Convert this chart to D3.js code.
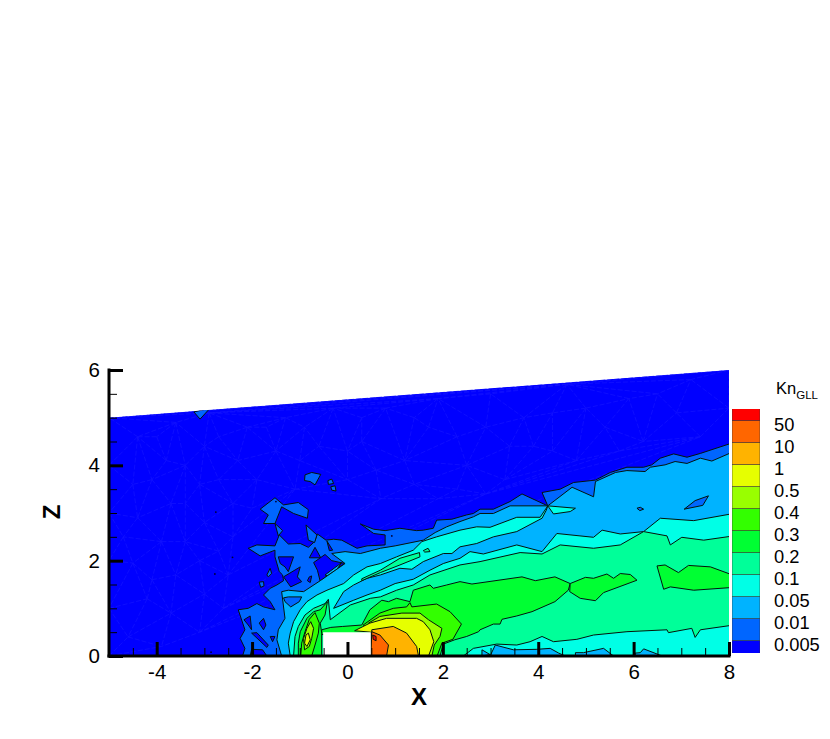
<!DOCTYPE html>
<html lang="en">
<head>
  <meta charset="utf-8">
  <title>Kn GLL contour</title>
  <style>
    body { margin:0; background:#fff; }
    svg { display:block; }
    text { font-family:"Liberation Sans", sans-serif; fill:#000; }
    .axis path { stroke:#000; stroke-width:3px; stroke-linecap:square; }
    .axis .tick line { stroke:#000; }
    .axis .major line { stroke-width:3px; }
    .axis .minor line { stroke-width:1px; }
    .axis text { font-size:20.5px; }
    .band { stroke:#04140c; stroke-width:1px; stroke-linejoin:round; }
    .mesh { fill:none; stroke:#1212ff; stroke-width:0.8px; stroke-dasharray:5 2; }
  </style>
</head>
<body>
  <div id="page"></div>
  <script src="https://cdn.jsdelivr.net/npm/d3@7"></script>
  <script>
    // legend, bottom to top
    var legendLabels = ["0.005","0.01","0.05","0.1","0.2","0.3","0.4","0.5","1","10","50",""];
    var legendColors = ["#0000ff","#0066ff","#00b3ff","#00ffe6","#00ff99","#00ff33","#33ff00","#99ff00","#e6ff00","#ffb300","#ff6600","#ff0000"];

    var xTicks = [-4,-2,0,2,4,6,8];
    var zTicks = [0,2,4,6];
    var xMinor = [-4.5,-3.5,-3,-2.5,-1.5,-1,-0.5,0.5,1,1.5,2.5,3,3.5,4.5,5,5.5,6.5,7,7.5];
    var zMinor = [0.5,1,1.5,2.5,3,3.5,4.5,5,5.5];

    // computational domain, x / z
    var domainEdge = [[-5,0],[-5,5],[8,6],[8,0]];
    var block = [[-0.51,0],[-0.51,0.5],[0.49,0.5],[0.49,0]];

    // mesh nodes that show through in the far field
    var meshNodes = [[-5,0],[-5,1],[-5,2],[-5,3],[-5,4],[-5,5],[-4.6,0.4],[-4.2,1.2],[-4.5,1.95],[-4.4,2.9],[-4.5,3.6],[-4.4,4.6],[-3.9,0.2],[-3.7,0.9],[-3.6,1.7],[-3.9,2.4],[-3.7,3.2],[-3.8,4.1],[-3.6,4.9],[-3.1,0.5],[-3,1.3],[-3.1,2],[-3,2.8],[-3.1,3.6],[-3,4.4],[-2.9,5.1],[-2.5,1.7],[-2.4,2.5],[-2.4,3.2],[-2.3,4.1],[-2.1,4.8],[-1.9,3.7],[-1.5,4.3],[-1.3,5],[-1.1,3.5],[-0.6,4.4],[-0.3,5.2],[0,3.7],[0.3,4.5],[0.8,5.2],[0.7,3.3],[1.2,4.1],[1.7,4.8],[1.9,5.4],[1.9,3.3],[2.5,4],[2.9,4.8],[3,5.5],[3.3,3.7],[3.9,4.4],[4.3,5.1],[4.6,5.7],[4.8,4.1],[5.4,4.8],[5.9,5.4],[6.2,4.5],[6.9,5.1],[7.2,5.8],[7.4,4.6],[8,5.2],[8,6],[-4.7,2.5],[-4.1,3.7],[-4,4.6],[-4.1,1.6],[-3.4,2.4],[-3.4,3.2],[-3.4,4],[-2.7,3.7],[-2.7,4.6],[-2.6,1],[-2.7,2.2],[-2,3.1],[-1.7,4.8],[-0.9,4.8],[-1,4.1],[0,4.3],[0.3,5],[0.6,3.9],[1.4,3.6],[1.4,5],[2.3,4.6],[2.3,3.5],[2.9,3.4],[3.4,4.4],[3.7,5],[4.3,4.3],[5,5.2],[5.7,4.3],[6.5,5.5]];

    // small closed pockets too tiny to fill, shown as dots
    var specks = [[-2.76,3.02],[-2.41,2.07],[-2.78,1.72],[-2.86,0.08],[-1.5,3.24],[0.93,2.52]];

    // 0.01 contour
    var band01 = [[8.1,4.48],[7.4,4.25],[7.12,4.17],[6.84,4.24],[6.56,4.15],[6.38,4.01],[6.21,3.96],[5.86,3.96],[5.51,3.85],[5.2,3.69],[4.74,3.64],[4.46,3.5],[4.08,3.43],[4.2,3.15],[3.66,3.4],[3.41,3.24],[3.06,3.08],[2.78,3.08],[2.64,2.99],[2.5,2.96],[2.19,2.87],[1.87,2.85],[1.8,2.68],[1.59,2.64],[1.45,2.63],[1.1,2.68],[0.79,2.63],[0.55,2.66],[0.27,2.77],[0.55,2.57],[0.79,2.54],[0.79,2.33],[0.41,2.31],[0.2,2.26],[-0.12,2.43],[-0.29,2.45],[-0.45,2.43],[-0.63,2.56],[-0.69,2.4],[-0.82,2.28],[-0.99,2.36],[-1.24,2.35],[-1.43,2.54],[-1.52,2.31],[-1.9,2.33],[-2.08,2.26],[-1.83,2.1],[-1.52,2.22],[-1.52,2.08],[-1.43,1.77],[-1.36,1.7],[-1.34,1.58],[-1.48,1.49],[-1.62,1.42],[-1.76,1.28],[-1.62,1.14],[-1.52,0.97],[-1.76,1.03],[-1.9,1.1],[-2.08,1],[-2.29,0.97],[-2.15,0.55],[-2.25,0.37],[-2.15,0.16],[-2.2,0],[8.1,0]];
    var island01a = [[-1.83,3.08],[-1.52,3.32],[-1.34,3.17],[-1.03,3.22],[-0.82,3.07],[-0.84,2.89],[-1.13,2.99],[-1.38,3.13],[-1.52,2.78],[-1.76,2.78],[-1.66,2.96]];
    var island01b = [[-0.89,3.8],[-0.75,3.85],[-0.56,3.81],[-0.68,3.59],[-0.78,3.66],[-0.9,3.68]];
    var island01c = [[-0.41,3.68],[-0.33,3.71],[-0.29,3.62],[-0.4,3.6]];
    var island01d = [[-0.35,3.55],[-0.26,3.57],[-0.24,3.46],[-0.33,3.48]];
    var island01e = [[-1.52,2.78],[-1.41,2.68],[-1.36,2.63],[-1.45,2.52]];
    var island01f = [[-0.87,2.75],[-0.64,2.54],[-0.69,2.38],[-0.82,2.43]];
    var island01g = [[-1.69,1.7],[-1.62,1.84],[-1.59,1.73],[-1.66,1.66]];
    var island01h = [[-1.85,1.55],[-1.76,1.56],[-1.75,1.47],[-1.82,1.44]];
    var island01i = [[-3.22,5.12],[-2.88,5.2],[-3.09,4.97]];

    // pockets below 0.01 inside band01
    var hole01a = [[-1.45,2.08],[-1.13,2.08],[-1.24,1.77],[-1.31,1.87],[-1.41,1.94]];
    var hole01b = [[-1.34,1.66],[-0.99,1.87],[-1.05,1.66],[-0.96,1.56],[-1.19,1.45]];
    var hole01c = [[-0.8,1.66],[-0.75,1.68],[-0.78,1.54],[-0.84,1.58]];
    var hole01d = [[-0.8,2.06],[-0.68,2.28],[-0.56,2.06]];
    var hole01e = [[-0.71,1.96],[-0.47,2.13],[-0.33,2],[-0.05,1.94],[-0.29,1.8],[-0.57,1.56],[-0.63,1.8]];
    var hole01f = [[-0.43,2.41],[-0.31,2.22],[-0.38,2.21]];
    var hole01g = [[-2.17,0.76],[-2.04,0.84],[-2.01,0.55],[-2.08,0.65]];
    var hole01h = [[-1.85,0.69],[-1.76,0.79],[-1.71,0.65],[-1.76,0.55]];
    var hole01i = [[-2.01,0.48],[-1.9,0.49],[-1.66,0.23],[-1.69,0.18]];
    var hole01j = [[-1.62,0.41],[-1.52,0.41],[-1.57,0.3]];
    var hole01k = [[-2.04,0],[-2.01,0.14],[-1.78,0.13],[-1.69,0]];
    var sliver01 = [[-0.47,1.7],[-0.12,1.96],[-0.22,1.82],[-0.42,1.68]];

    // 0.05 contour
    var band05 = [[8.1,4.29],[7.64,4.09],[7.4,4.15],[7.12,4.04],[6.87,4.08],[6.66,4.01],[6.35,3.96],[6.24,3.87],[5.86,3.89],[5.62,3.85],[5.2,3.66],[5.16,3.34],[4.71,3.54],[4.2,3.15],[3.41,3.15],[3.06,2.99],[2.78,2.99],[2.64,2.92],[2.36,2.82],[2.08,2.71],[1.84,2.59],[1.59,2.43],[1,2.31],[0.69,2.26],[0.27,2.15],[-0.05,2.19],[-0.33,2.15],[-0.05,1.94],[-0.57,1.58],[-0.92,1.35],[-1.24,1.38],[-1.38,1.35],[-1.31,0.79],[-1.45,0.55],[-1.48,0.34],[-1.38,0],[8.1,0]];
    var island05a = [[-1.34,1.22],[-1.24,1.24],[-0.96,1.24],[-1.01,1.14],[-1.19,1.03],[-1.31,1.14]];
    var island05b = [[7.06,3.08],[7.29,3.26],[7.57,3.36],[7.45,3.16]];
    var island05c = [[6.07,3.1],[6.14,3.12],[6.21,3.08],[6.13,3.05]];

    // 0.1 contour, with the thin 0.05 sliver cut in from the right
    var band1 = [[8.1,2.99],[7.26,2.84],[6.56,2.89],[6.21,2.61],[5.72,2.56],[5.34,2.64],[5.16,2.49],[4.39,2.57],[4.08,2.19],[3.55,2.33],[2.85,2.14],[2.57,2.19],[2.36,2.05],[2.01,1.94],[1.73,1.8],[1.38,1.61],[1,1.52],[0.69,1.38],[0.41,1.28],[0.13,1.17],[-0.29,1],[-0.08,1.35],[0.13,1.49],[0.41,1.63],[0.69,1.7],[1.1,1.84],[1.35,1.82],[1.59,1.98],[2.01,2.15],[2.19,2.15],[2.36,2.29],[2.71,2.36],[3.06,2.5],[3.55,2.61],[4.08,2.89],[4.17,3.06],[4.2,3.15],[4.04,2.91],[3.55,2.91],[2.99,2.7],[2.71,2.71],[2.36,2.64],[1.87,2.5],[1.56,2.4],[1.38,2.22],[1.03,2.08],[0.69,1.94],[0.41,1.87],[0.13,1.7],[-0.08,1.52],[-0.43,1.38],[-0.64,1.28],[-0.85,1.14],[-0.99,0.97],[-1.13,0.72],[-1.2,0.48],[-1.24,0.27],[-1.2,0],[8.1,0]];
    var island1a = [[4.2,3.15],[4.78,3.1],[4.67,3.03],[4.32,2.98]];
    var patch05a = [[2.82,0.13],[2.99,0.03],[2.82,0]];
    var patch05b = [[3.1,0.23],[3.48,0.13],[3.97,0.14],[4.25,0.16],[4.43,0.06],[4.57,0],[2.99,0]];
    var patch05c = [[4.78,0.07],[4.95,0.07],[5.37,0.16],[5.58,0],[4.78,0]];
    var patch05d = [[6.03,0.06],[6.14,0.07],[6.21,0.15],[6.6,0],[6.03,0]];

    // 0.2 contour
    var band2 = [[8.1,2.52],[7.47,2.43],[7.01,2.49],[6.77,2.33],[6.7,2.52],[6.21,2.61],[5.72,2.33],[5.16,2.26],[4.46,2.33],[4.08,2.14],[3.62,2.17],[2.78,1.98],[2.36,1.91],[1.73,1.7],[1.38,1.49],[1.03,1.38],[0.69,1.24],[0.48,1.21],[0.06,1.07],[-0.36,0.76],[-0.4,1.19],[-0.47,1.1],[-0.71,1],[-0.89,0.86],[-1.03,0.62],[-1.1,0.41],[-1.13,0],[2.43,0],[2.64,0.16],[3.13,0.25],[3.55,0.23],[3.83,0.3],[4.08,0.41],[4.32,0.3],[4.81,0.35],[5.16,0.44],[5.86,0.51],[6.7,0.55],[6.73,0.49],[7.22,0.58],[7.29,0.39],[7.4,0.55],[8.1,0.65]];
    var sliver2 = [[0.3,1.62],[0.69,1.8],[1.1,2.05],[1.51,2.17],[1.52,2.08],[1.1,1.91],[0.69,1.75],[0.3,1.58]];
    var spot2 = [[1.59,2.21],[1.69,2.26],[1.73,2.19],[1.62,2.18]];

    // 0.3 contour
    var band3 = [[4.67,1.52],[4.35,1.66],[3.94,1.58],[3.66,1.66],[2.61,1.51],[2.36,1.56],[2.08,1.49],[1.8,1.42],[1.73,1.49],[1.38,1.38],[1.31,1.14],[1.03,1.21],[0.86,1.14],[0.72,1.17],[0.47,0.97],[0.3,0.65],[-0.1,0.62],[-0.35,0.6],[-0.54,0.55],[-0.54,0.45],[0.49,0.45],[0.49,0],[1.94,0],[2.01,0.25],[2.25,0.34],[2.5,0.41],[2.75,0.51],[2.78,0.55],[3.06,0.67],[3.2,0.67],[3.24,0.77],[3.55,0.84],[3.87,0.93],[4.35,1.14],[4.63,1.38]];
    var band3left = [[-0.42,1.14],[-0.57,0.97],[-0.71,0.93],[-0.85,0.79],[-0.99,0.51],[-1.03,0.27],[-1.03,0],[-0.54,0],[-0.54,0.48],[-0.57,0.69],[-0.47,0.86]];
    var band3b = [[4.67,1.52],[4.99,1.65],[5.16,1.63],[5.44,1.72],[5.58,1.63],[5.72,1.73],[5.93,1.71],[6.07,1.59],[5.37,1.33],[5.2,1.16],[4.88,1.21],[4.66,1.35]];
    var band3c = [[6.49,1.89],[6.66,1.91],[6.94,1.75],[7.15,1.9],[7.61,1.87],[8.1,1.69],[8.1,1.44],[7.26,1.38],[6.77,1.45],[6.63,1.4]];

    // 0.4 contour
    var band4 = [[0.33,0.65],[0.68,0.9],[0.96,1],[1.24,1.03],[1.31,1.12],[1.35,1.03],[1.87,1.09],[2.15,0.93],[2.39,0.67],[2.21,0.35],[1.98,0.27],[1.88,0],[0.49,0],[0.49,0.55]];
    var band4left = [[-0.68,0.91],[-0.8,0.77],[-0.89,0.51],[-0.96,0.27],[-0.98,0],[-0.75,0],[-0.68,0.23],[-0.61,0.48],[-0.59,0.69]];

    // 0.5 contour
    var band5 = [[0.44,0.69],[0.68,0.83],[1.14,0.9],[1.52,0.9],[1.7,0.76],[1.98,0.58],[1.94,0.41],[1.82,0.23],[1.77,0],[0.49,0],[0.49,0.55]];
    var band5left = [[-0.77,0.72],[-0.85,0.58],[-0.92,0.37],[-0.9,0.13],[-0.8,0.2],[-0.75,0.37],[-0.71,0.58]];

    // 1 contour
    var band10 = [[0.15,0.53],[0.47,0.69],[0.82,0.79],[1.45,0.79],[1.59,0.72],[1.73,0.55],[1.81,0.3],[1.7,0],[0.49,0],[0.49,0.5]];
    var band10left = [[-0.87,0.44],[-0.82,0.48],[-0.78,0.34],[-0.85,0.2],[-0.9,0.27]];

    // 10 and 50 contours
    var band100 = [[0.51,0.55],[0.96,0.62],[1.24,0.48],[1.45,0.2],[1.49,0],[0.49,0]];
    var band500 = [[0.51,0.51],[0.68,0.44],[0.86,0.23],[0.82,0],[0.49,0]];
    var bandTop = [[0.53,0.44],[0.6,0.41],[0.6,0.32],[0.54,0.35]];

    // paint order, each entry is [legend index, polygon]
    var layers = [
      [1,band01],[1,island01a],[1,island01b],[1,island01c],[1,island01d],[1,island01e],[1,island01f],[1,island01g],[1,island01h],[1,island01i],
      [0,hole01a],[0,hole01b],[0,hole01c],[0,hole01d],[0,hole01e],[0,hole01f],[0,hole01g],[0,hole01h],[0,hole01i],[0,hole01j],[0,hole01k],[2,sliver01],
      [2,band05],[1,island05a],[1,island05b],[1,island05c],
      [3,band1],[3,island1a],[2,patch05a],[2,patch05b],[2,patch05c],[2,patch05d],
      [4,band2],[4,sliver2],[4,spot2],
      [5,band3],[5,band3left],[5,band3b],[5,band3c],
      [6,band4],[6,band4left],
      [7,band5],[7,band5left],
      [8,band10],[8,band10left],
      [9,band100],[10,band500],[11,bandTop]
    ];

    var width = 830, height = 739;

    var x = d3.scaleLinear().domain([-5,8]).range([109,729]);
    var z = d3.scaleLinear().domain([0,6]).range([656,370]);

    var line = d3.line()
        .x(function(d){ return x(d[0]); })
        .y(function(d){ return z(d[1]); })
        .curve(d3.curveLinearClosed);

    var svg = d3.select("#page").append("svg")
        .attr("width", width)
        .attr("height", height);

    svg.append("clipPath").attr("id","domain")
        .append("path").attr("d", line(domainEdge));

    var plot = svg.append("g").attr("clip-path","url(#domain)");

    plot.append("path")
        .attr("d", line(domainEdge))
        .attr("fill", legendColors[0]);

    var meshPoints = meshNodes.map(function(d){ return [x(d[0]), z(d[1])]; });
    plot.append("path")
        .attr("class","mesh")
        .attr("d", d3.Delaunay.from(meshPoints).render());

    plot.selectAll("path.band").data(layers).enter().append("path")
        .attr("class","band")
        .attr("fill", function(d){ return legendColors[d[0]]; })
        .attr("d", function(d){ return line(d[1]); });

    plot.selectAll("circle").data(specks).enter().append("circle")
        .attr("cx", function(d){ return x(d[0]); })
        .attr("cy", function(d){ return z(d[1]); })
        .attr("r",0.9)
        .attr("fill","#000033");

    plot.append("path")
        .attr("d", line(block))
        .attr("fill","#fff");

    // axes, ticks point into the plot
    function styleAxis(g, minor){
      g.attr("class","axis");
      g.selectAll(".tick").attr("class", function(d){
        return minor.indexOf(d) >= 0 ? "tick minor" : "tick major";
      });
    }

    var xAll = xTicks.concat(xMinor);
    var xAxis = svg.append("g")
        .attr("transform","translate(0," + z(0) + ")")
        .call(d3.axisBottom(x).tickValues(xAll).tickSizeOuter(0).tickSizeInner(0).tickPadding(8)
          .tickFormat(function(d){ return xTicks.indexOf(d) >= 0 ? d : ""; }));
    styleAxis(xAxis, xMinor);
    xAxis.selectAll(".tick line").attr("y2", function(d){ return xMinor.indexOf(d) >= 0 ? -8 : -14; });
    xAxis.select(".domain").attr("d","M" + x(-5) + ",0H" + x(8));
    xAxis.selectAll("text").attr("dy","0.71em").style("text-anchor","middle");

    var zAll = zTicks.concat(zMinor);
    var zAxis = svg.append("g")
        .attr("transform","translate(" + x(-5) + ",0)")
        .call(d3.axisLeft(z).tickValues(zAll).tickSizeOuter(0).tickSizeInner(0).tickPadding(9)
          .tickFormat(function(d){ return zTicks.indexOf(d) >= 0 ? d : ""; }));
    styleAxis(zAxis, zMinor);
    zAxis.selectAll(".tick line").attr("x2", function(d){ return zMinor.indexOf(d) >= 0 ? 8 : 14; });
    zAxis.select(".domain").attr("d","M0," + z(6) + "V" + z(0));

    svg.append("text")
        .attr("x",419).attr("y",705)
        .attr("text-anchor","middle")
        .style("font-size","24px").style("font-weight","bold")
        .text("X");

    svg.append("text")
        .attr("transform","translate(60,512) rotate(-90)")
        .attr("text-anchor","middle")
        .style("font-size","24px").style("font-weight","bold")
        .text("Z");

    // legend
    var legendY = d3.scaleBand()
        .domain(legendColors.slice().reverse())
        .range([398.7,662.7]);

    var legend = svg.append("g");

    legend.append("clipPath").attr("id","legendClip")
        .append("rect").attr("x",732).attr("y",409).attr("width",28).attr("height",244);

    legend.append("g").attr("clip-path","url(#legendClip)")
        .selectAll("rect").data(legendColors).enter().append("rect")
        .attr("x",732)
        .attr("width",28)
        .attr("y", function(d){ return legendY(d); })
        .attr("height", legendY.bandwidth())
        .attr("fill", function(d){ return d; })
        .attr("stroke","#333")
        .attr("stroke-width",0.6);

    legend.selectAll("text.level").data(legendLabels).enter().append("text")
        .attr("class","level")
        .attr("x",774)
        .attr("y", function(d,i){ return legendY(legendColors[i]) + 10.6; })
        .style("font-size","18.3px")
        .text(function(d){ return d; });

    var title = legend.append("text").attr("x",776).attr("y",394).style("font-size","16.5px");
    title.append("tspan").text("Kn");
    title.append("tspan").attr("dy",5).style("font-size","11.5px").text("GLL");
  </script>
</body>
</html>
